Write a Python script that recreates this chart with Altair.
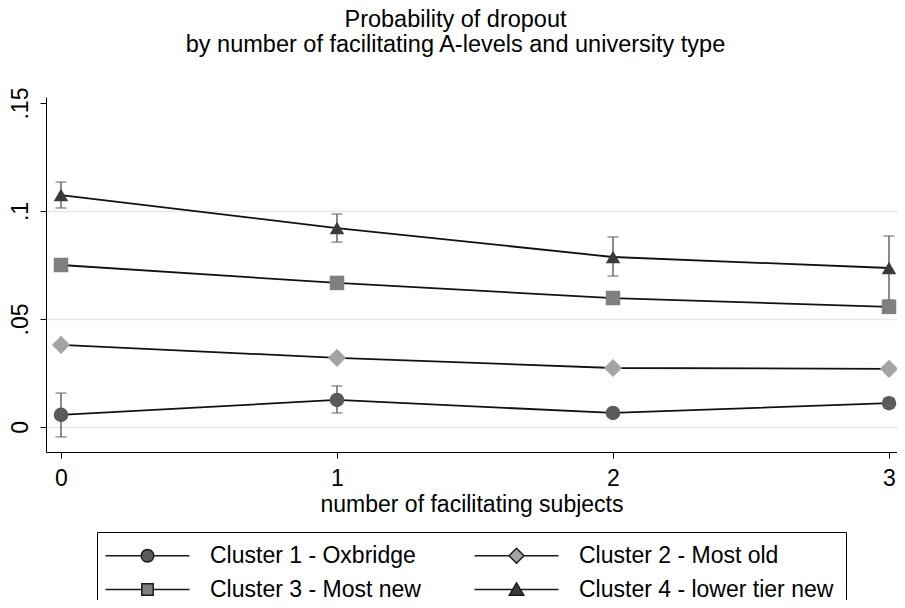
import altair as alt
import pandas as pd

# ---- data ----
x_vals = [0, 1, 2, 3]
series_names = ["Cluster 1 - Oxbridge", "Cluster 2 - Most old",
                "Cluster 3 - Most new", "Cluster 4 - lower tier new"]

c1 = [0.0056, 0.0125, 0.0065, 0.0110]
c1_lo = [-0.0046, 0.0065, 0.0050, 0.0088]
c1_hi = [0.0157, 0.0190, 0.0080, 0.0132]

c2 = [0.0380, 0.0320, 0.0273, 0.0269]
c2_lo = [0.0380, 0.0320, 0.0273, 0.0269]
c2_hi = [0.0380, 0.0320, 0.0273, 0.0269]

c3 = [0.0750, 0.0667, 0.0597, 0.0556]
c3_lo = [0.0750, 0.0667, 0.0597, 0.0556]
c3_hi = [0.0750, 0.0667, 0.0597, 0.0556]

c4 = [0.1074, 0.0921, 0.0787, 0.0736]
c4_lo = [0.1014, 0.0856, 0.0699, 0.0588]
c4_hi = [0.1134, 0.0986, 0.0880, 0.0884]

y_ticks = [0, 0.05, 0.10, 0.15]
title_lines = ["Probability of dropout",
               "by number of facilitating A-levels and university type"]
x_title = "number of facilitating subjects"

rows = []
for name, m, lo, hi in zip(series_names, [c1, c2, c3, c4],
                           [c1_lo, c2_lo, c3_lo, c4_lo],
                           [c1_hi, c2_hi, c3_hi, c4_hi]):
    for xv, mv, lv, hv in zip(x_vals, m, lo, hi):
        rows.append({"x": xv, "series": name, "p": mv, "lo": lv, "hi": hv})
df = pd.DataFrame(rows)

FONT = "Liberation Sans"
FS = 23
marker_fill = ["#5a5a5a", "#a3a3a3", "#7f7f7f", "#3a3a3a"]
marker_shapes = ["circle", "M0,-1.25L1.25,0L0,1.25L-1.25,0Z", "square", "triangle-up"]
legend_paths = [
    "M-7,0H-1.05M1.05,0H7M-1.05,0A1.05,1.05 0 1,0 1.05,0A1.05,1.05 0 1,0 -1.05,0Z",
    "M-7,0H-1.25M1.25,0H7M0,-1.25L1.25,0L0,1.25L-1.25,0Z",
    "M-7,0H-0.95M0.95,0H7M-0.95,-0.95H0.95V0.95H-0.95Z",
    "M-7,0H-0.7M0.7,0H7M0,-1.1L1.2,0.95H-1.2Z",
]

xs = alt.Scale(domain=[-0.0543, 3.029], nice=False, zero=False)
ys = alt.Scale(domain=[-0.0116, 0.1528], nice=False, zero=False)

x_axis = alt.Axis(values=x_vals, format="d", labelFontSize=FS, labelFont=FONT,
                  labelColor="black", tickSize=6, tickColor="black",
                  domainColor="black", labelPadding=9, grid=False,
                  title=x_title, titleFont=FONT, titleFontSize=FS,
                  titleFontWeight="normal", titleColor="black", titlePadding=3)
y_axis = alt.Axis(values=y_ticks,
                  labelExpr="datum.value == 0 ? '0' : slice(format(datum.value, '.2~f'), 1)",
                  labelAngle=270, labelAlign="center", labelBaseline="bottom",
                  labelFontSize=FS, labelFont=FONT, labelColor="black",
                  labelPadding=8, tickSize=6, tickColor="black",
                  domainColor="black", grid=True,
                  gridColor={"condition": {"test": "datum.value > 0.14", "value": "transparent"},
                             "value": "#e6e6e6"},
                  gridWidth=1.5, title=None)

base = alt.Chart(df)

rules = base.mark_rule(color="#666666", strokeWidth=1.5).encode(
    x=alt.X("x:Q", scale=xs, axis=x_axis),
    y=alt.Y("lo:Q", scale=ys, axis=y_axis),
    y2="hi:Q",
)
cap_lo = base.mark_tick(color="#666666", thickness=1.5, size=11, orient="horizontal").encode(
    x=alt.X("x:Q", scale=xs), y=alt.Y("lo:Q", scale=ys))
cap_hi = base.mark_tick(color="#666666", thickness=1.5, size=11, orient="horizontal").encode(
    x=alt.X("x:Q", scale=xs), y=alt.Y("hi:Q", scale=ys))

lines = base.mark_line(color="#111111", strokeWidth=1.8).encode(
    x=alt.X("x:Q", scale=xs), y=alt.Y("p:Q", scale=ys),
    detail="series:N")

points = base.mark_point(filled=True, size=210, opacity=1).encode(
    x=alt.X("x:Q", scale=xs), y=alt.Y("p:Q", scale=ys),
    shape=alt.Shape("series:N", scale=alt.Scale(domain=series_names, range=marker_shapes), legend=None),
    fill=alt.Fill("series:N", scale=alt.Scale(domain=series_names, range=marker_fill), legend=None),
)

def make_legend():
    return alt.Legend(title=None,
                      orient="none", legendX=51, legendY=435,
                      columns=2, direction="horizontal",
                      symbolSize=144, symbolOffset=27, labelOffset=51,
                      labelFont=FONT, labelFontSize=FS, labelColor="black",
                      labelLimit=0,
                      columnPadding=50, rowPadding=10, padding=12,
                      strokeColor="black", fillColor="white")

legend_layer = base.mark_point(filled=True, size=144, opacity=1, clip=True,
                               stroke="#1a1a1a", strokeWidth=1.5).encode(
    x=alt.value(-500), y=alt.value(-500),
    shape=alt.Shape("series:N", scale=alt.Scale(domain=series_names, range=legend_paths),
                    legend=make_legend()),
    fill=alt.Fill("series:N", scale=alt.Scale(domain=series_names, range=marker_fill),
                  legend=make_legend()),
)

chart = alt.layer(rules, cap_lo, cap_hi, lines, points, legend_layer).resolve_scale(
    shape="independent", fill="independent"
).properties(
    width=851, height=355,
    autosize=alt.AutoSizeParams(type="none"),
    padding={"left": 38, "top": 89, "right": 0, "bottom": 148},
    title=alt.TitleParams(title_lines, font=FONT, fontSize=23.5, fontWeight="normal",
                          color="black", anchor="middle", offset=31, dx=-16,
                          lineHeight=25),
).configure_view(strokeWidth=0)

chart.save("out.html", embed_options={"renderer": "svg", "actions": False})
